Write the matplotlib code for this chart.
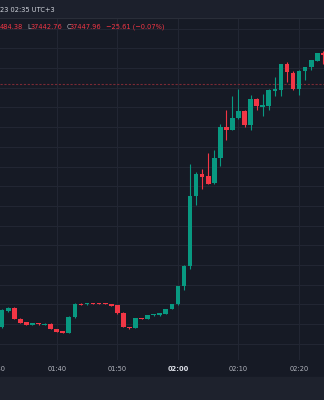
import matplotlib.pyplot as plt
from matplotlib.patches import Rectangle

# one-minute candles, minutes after 01:30
minutes = list(range(1, 55))
opens = [37318.4, 37326.7, 37328.4, 37322.8, 37320.9, 37319.8, 37320.5, 37319.8, 37320.2, 37317.4,
         37316.3, 37315.7, 37323.4, 37330.4, 37330.2, 37330.6, 37330.5, 37330.5, 37330.3, 37329.7,
         37325.9, 37318.7, 37318.1, 37323.0, 37322.8, 37324.4, 37324.4, 37325.4, 37327.7, 37330.0,
         37339.5, 37349.5, 37384.9, 37396.4, 37395.1, 37391.4, 37404.1, 37420.3, 37418.5, 37424.4,
         37428.3, 37421.1, 37434.3, 37430.3, 37430.7, 37438.4, 37439.1, 37451.9, 37447.7, 37439.3,
         37448.6, 37450.3, 37453.8, 37457.7]
highs = [37327.5, 37328.7, 37328.5, 37322.9, 37321.1, 37320.6, 37320.6, 37320.4, 37320.4, 37317.6,
         37316.6, 37323.9, 37330.5, 37330.8, 37330.9, 37330.7, 37330.7, 37330.6, 37330.4, 37329.8,
         37326.2, 37318.8, 37323.1, 37323.3, 37324.8, 37324.9, 37325.9, 37327.9, 37330.3, 37339.6,
         37349.8, 37401.3, 37397.2, 37398.8, 37406.7, 37408.4, 37421.6, 37428.7, 37435.8, 37439.3,
         37428.7, 37436.1, 37434.8, 37436.7, 37439.2, 37445.6, 37452.0, 37453.0, 37448.6, 37448.8,
         37450.7, 37454.1, 37457.8, 37458.6]
lows = [37318.1, 37326.4, 37322.6, 37320.4, 37319.6, 37319.6, 37319.8, 37319.6, 37317.3, 37316.0,
        37315.3, 37315.5, 37323.2, 37329.6, 37329.7, 37330.1, 37330.1, 37330.0, 37329.2, 37325.4,
        37318.3, 37317.7, 37317.8, 37322.6, 37322.6, 37324.3, 37324.3, 37325.2, 37327.5, 37329.6,
        37337.4, 37348.2, 37380.3, 37388.5, 37391.1, 37391.1, 37400.3, 37413.5, 37418.3, 37424.1,
        37420.2, 37418.5, 37428.7, 37425.6, 37428.5, 37435.8, 37435.8, 37443.1, 37439.1, 37436.1,
        37443.9, 37449.0, 37453.5, 37451.9]
closes = [37327.2, 37328.4, 37322.8, 37320.6, 37319.8, 37320.5, 37320.0, 37320.2, 37317.4, 37316.2,
          37315.5, 37323.7, 37330.3, 37329.8, 37330.6, 37330.3, 37330.2, 37330.2, 37329.4, 37325.6,
          37318.5, 37317.9, 37323.0, 37322.7, 37324.7, 37324.7, 37325.8, 37327.7, 37330.1, 37339.5,
          37349.5, 37384.9, 37396.4, 37394.9, 37391.3, 37404.1, 37420.2, 37418.5, 37424.4, 37428.4,
          37421.1, 37434.3, 37430.7, 37431.0, 37438.7, 37439.2, 37451.9, 37448.1, 37439.3, 37448.6,
          37450.5, 37453.9, 37457.6, 37456.7]
price_line = 37441.9
tick_minutes = [0, 10, 20, 30, 40, 50]
tick_labels = ['01:30', '01:40', '01:50', '02:00', '02:10', '02:20']

BG = '#161a25'
GRID = '#222633'
UP = '#089981'
DOWN = '#f23645'

fig = plt.figure(figsize=(3.24, 4.0), dpi=100, facecolor=BG)
W, H = 324, 400
ax = fig.add_axes([0, (H - 360) / H, 1, (360 - 18) / H])
ax.set_facecolor(BG)
for s in ax.spines.values():
    s.set_visible(False)

ax.set_xlim(0.644, 54.11)
ax.set_ylim(37301.8, 37475.4)

# grid
for p in range(37300, 37480, 10):
    ax.axhline(p, color=GRID, lw=0.8, zorder=0)
for m in tick_minutes:
    ax.axvline(m, color=GRID, lw=0.8, zorder=0)

ax.axhline(price_line, color='#7a2a35', lw=0.8, ls=(0, (2, 1.5)), zorder=1)

for m, o, h, l, c in zip(minutes, opens, highs, lows, closes):
    col = UP if c >= o else DOWN
    ax.vlines(m, l, h, color=col, lw=0.8, zorder=2)
    ax.bar(m, max(abs(c - o), 0.5), bottom=min(o, c), width=0.77, color=col, zorder=3)

ax.set_xticks([])
ax.set_yticks([])

# time labels below the chart
for m, lab in zip(tick_minutes, tick_labels):
    ax.text(m, -0.027, lab, transform=ax.get_xaxis_transform(), ha='center', va='center',
            fontsize=4.8, color='#e0e3eb' if lab == '02:00' else '#b2b5be',
            fontweight='bold' if lab == '02:00' else 'normal', clip_on=False)

# bottom panel and header strip
fig.patches.append(Rectangle((0, 0), 1, 23 / H, transform=fig.transFigure, color='#1e222d', zorder=0))
fig.patches.append(Rectangle((0, (H - 17) / H), 1, 17 / H, transform=fig.transFigure, color='#1c202c', zorder=0))
fig.lines.append(plt.Line2D([0, 1], [(H - 17.5) / H] * 2, transform=fig.transFigure, color='#2a2e39', lw=0.8))

fig.text(0.0, (H - 9.5) / H, '23 02:35 UTC+3', fontsize=4.8, color='#d1d4dc', va='center', ha='left')

# OHLC legend
ty = (H - 26.7) / H
parts = [(0, '484.38', DOWN), (27.5, 'L', '#b2b5be'), (30.7, '37442.76', DOWN),
         (66.5, 'C', '#b2b5be'), (70, '37447.96', DOWN), (106, '\u221225.61 (\u22120.07%)', DOWN)]
for x, s, c in parts:
    fig.text(x / W, ty, s, fontsize=4.8, color=c, va='center', ha='left')

fig.savefig('out.png', dpi=100, facecolor=BG)
